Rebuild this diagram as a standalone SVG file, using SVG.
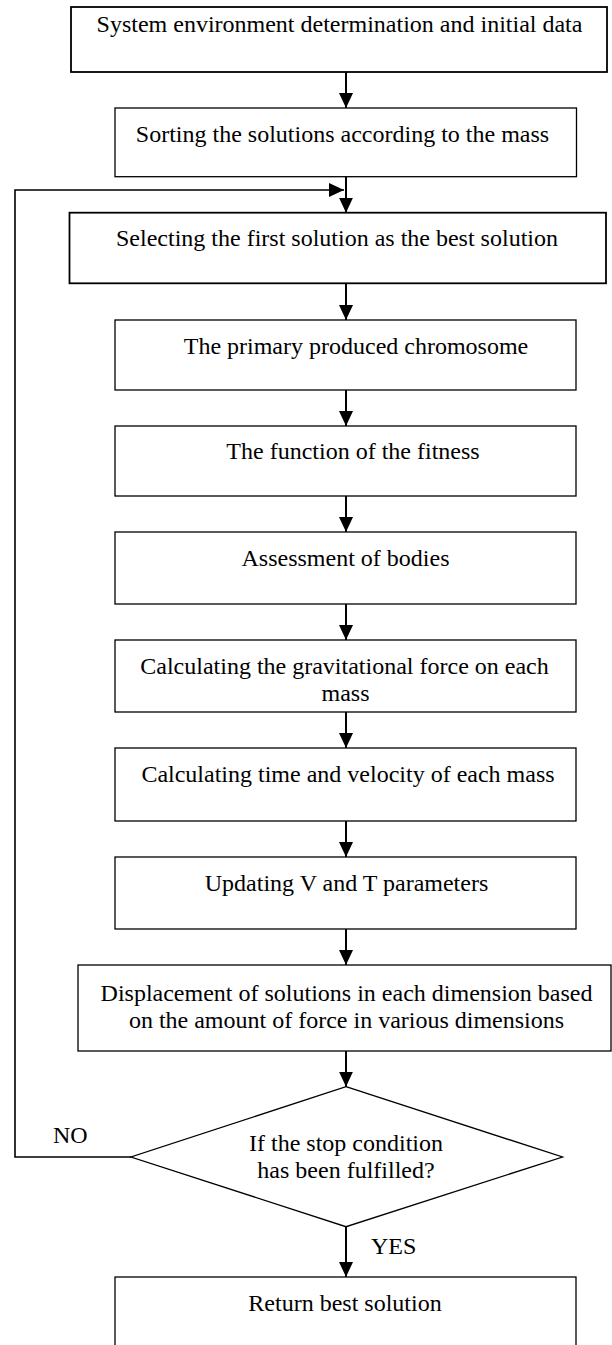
<svg xmlns="http://www.w3.org/2000/svg" width="612" height="1345" viewBox="0 0 612 1345">
<style>
.box{fill:#fff;stroke:#000;stroke-width:1.3}
.thick{stroke-width:1.8}
.t{font-family:"Liberation Serif","Times New Roman",serif;font-size:24px;fill:#000;text-anchor:middle}
.l{font-family:"Liberation Serif","Times New Roman",serif;font-size:24px;fill:#000}
.c{fill:none;stroke:#000;stroke-width:2}
.lp{fill:none;stroke:#000;stroke-width:1.6}
</style>
<defs>
<marker id="ah" viewBox="0 0 15 14" refX="15" refY="7" markerWidth="15" markerHeight="14" markerUnits="userSpaceOnUse" orient="auto">
<path d="M0,0 L15,7 L0,14 Z" fill="#000"/>
</marker>
</defs>
<rect width="612" height="1345" fill="#fff"/>
<g id="connectors">
<line class="c" x1="346" y1="72" x2="346" y2="108" marker-end="url(#ah)"/>
<line class="c" x1="346" y1="176.7" x2="346" y2="212.7" marker-end="url(#ah)"/>
<line class="c" x1="346" y1="283.3" x2="346" y2="320" marker-end="url(#ah)"/>
<line class="c" x1="346" y1="390" x2="346" y2="426" marker-end="url(#ah)"/>
<line class="c" x1="346" y1="496" x2="346" y2="532" marker-end="url(#ah)"/>
<line class="c" x1="346" y1="604" x2="346" y2="640" marker-end="url(#ah)"/>
<line class="c" x1="346" y1="712" x2="346" y2="748" marker-end="url(#ah)"/>
<line class="c" x1="346" y1="821" x2="346" y2="857" marker-end="url(#ah)"/>
<line class="c" x1="346" y1="929" x2="346" y2="965" marker-end="url(#ah)"/>
<line class="c" x1="346" y1="1051" x2="346" y2="1086.7" marker-end="url(#ah)"/>
<line class="c" x1="346" y1="1226.7" x2="346" y2="1277" marker-end="url(#ah)"/>
<polyline class="lp" points="131,1157 15,1157 15,190 344,190" marker-end="url(#ah)"/>
<text class="l" x="53" y="1143">NO</text>
<text class="l" x="371" y="1254">YES</text>
</g>
<g id="n1"><rect class="box thick" x="71" y="7" width="536" height="65"/><text class="t" x="339.5" y="32">System environment determination and initial data</text></g>
<g id="n2"><rect class="box" x="115" y="108" width="461.5" height="68.7"/><text class="t" x="342.5" y="142">Sorting the solutions according to the mass</text></g>
<g id="n3"><rect class="box thick" x="69.5" y="212.7" width="536.5" height="70.6"/><text class="t" x="337" y="246">Selecting the first solution as the best solution</text></g>
<g id="n4"><rect class="box" x="115" y="320" width="461" height="70"/><text class="t" x="356" y="354">The primary produced chromosome</text></g>
<g id="n5"><rect class="box" x="115" y="426" width="461" height="70"/><text class="t" x="353" y="459">The function of the fitness</text></g>
<g id="n6"><rect class="box" x="115" y="532" width="461" height="72"/><text class="t" x="345.5" y="565.5">Assessment of bodies</text></g>
<g id="n7"><rect class="box" x="115" y="640" width="461" height="72"/><text class="t" x="344.5" y="674">Calculating the gravitational force on each</text><text class="t" x="345.5" y="700.5">mass</text></g>
<g id="n8"><rect class="box" x="115" y="748" width="461" height="73"/><text class="t" x="348" y="781.5">Calculating time and velocity of each mass</text></g>
<g id="n9"><rect class="box" x="115" y="857" width="461" height="72"/><text class="t" x="346.5" y="890.5">Updating V and T parameters</text></g>
<g id="n10"><rect class="box" x="78" y="965" width="533" height="86"/><text class="t" x="346.5" y="1000.5">Displacement of solutions in each dimension based</text><text class="t" x="346.5" y="1028">on the amount of force in various dimensions</text></g>
<g id="n11"><polygon class="box" points="346,1086.7 562.5,1157 346,1226.7 131,1157"/><text class="t" x="346" y="1150.5">If the stop condition</text><text class="t" x="346" y="1178">has been fulfilled?</text></g>
<g id="n12"><rect class="box" x="115" y="1277" width="461" height="80"/><text class="t" x="345" y="1311">Return best solution</text></g>
</svg>
